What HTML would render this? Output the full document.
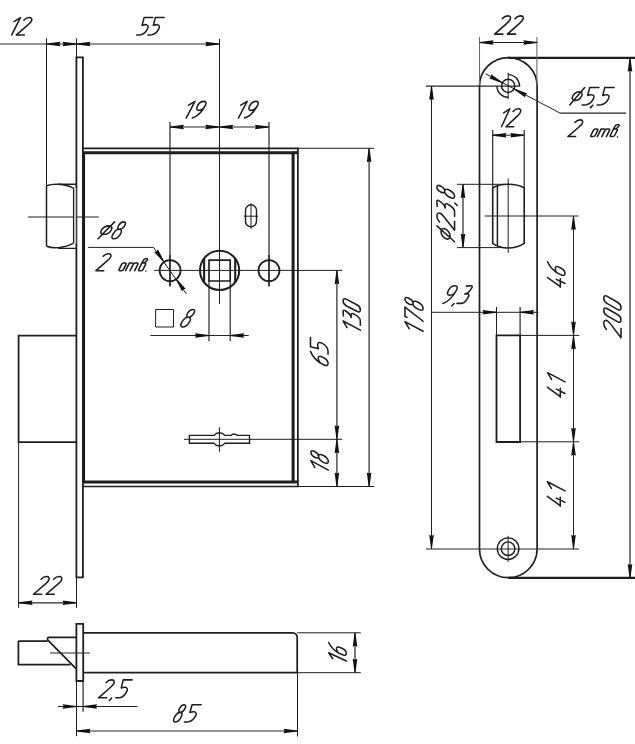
<!DOCTYPE html>
<html><head><meta charset="utf-8"><style>
html,body{margin:0;padding:0;background:#fff;}
svg{display:block;}
g path{vector-effect:non-scaling-stroke;}
</style></head><body>
<svg width="635" height="744" viewBox="0 0 635 744">
<rect x="0" y="0" width="635" height="744" fill="#fff"/>
<path d="M76.4,57.3 H82.9 V577.4 H76.4 Z" stroke="#1e1e1e" stroke-width="1.8" fill="none"/>
<path d="M83,148.4 H297.9 V486.5 H83" stroke="#1e1e1e" stroke-width="1.7" fill="none"/>
<path d="M83.6,152.7 H293.1 V481.9 H83.6 Z" stroke="#1e1e1e" stroke-width="3.0" fill="none"/>
<line x1="293.1" y1="152.7" x2="298.3" y2="152.7" stroke="#1e1e1e" stroke-width="3.0"/>
<line x1="293.1" y1="481.9" x2="298.3" y2="481.9" stroke="#1e1e1e" stroke-width="3.0"/>
<path d="M46.5,185.7 V246.2" stroke="#1e1e1e" stroke-width="1.5" fill="none"/>
<path d="M46.5,185.7 C52,183.6 64,183.2 73.4,188.1" stroke="#1e1e1e" stroke-width="1.5" fill="none"/>
<path d="M46.5,246.2 C52,248.4 64,248.8 73.4,243.2" stroke="#1e1e1e" stroke-width="1.5" fill="none"/>
<path d="M58,184.3 H76.5 M58,248.4 H76.5" stroke="#1e1e1e" stroke-width="1.4" fill="none"/>
<line x1="28" y1="217" x2="98.8" y2="217" stroke="#1e1e1e" stroke-width="1.0"/>
<rect x="73.6" y="188.2" width="2.6" height="55" fill="#c8c8c8"/>
<line x1="73.5" y1="188.1" x2="73.5" y2="243.3" stroke="#1e1e1e" stroke-width="1.1"/>
<path d="M76.5,335.6 H18.6 V442 H76.5" stroke="#1e1e1e" stroke-width="1.75" fill="none"/>
<line x1="18.6" y1="442" x2="18.6" y2="607.9" stroke="#1e1e1e" stroke-width="1.0"/>
<line x1="46.5" y1="38.2" x2="46.5" y2="185.7" stroke="#1e1e1e" stroke-width="1.0"/>
<line x1="76.5" y1="38.2" x2="76.5" y2="57" stroke="#1e1e1e" stroke-width="1.0"/>
<line x1="0" y1="44" x2="219.3" y2="44" stroke="#262626" stroke-width="1.2"/>
<polygon points="46.50,43.55 60.50,41.70 59.40,44.00 60.50,46.30 46.50,44.45" fill="#111"/>
<polygon points="76.50,44.45 62.50,46.30 63.60,44.00 62.50,41.70 76.50,43.55" fill="#111"/>
<polygon points="76.50,43.55 90.50,41.70 89.40,44.00 90.50,46.30 76.50,44.45" fill="#111"/>
<polygon points="219.30,44.45 205.30,46.30 206.40,44.00 205.30,41.70 219.30,43.55" fill="#111"/>
<line x1="219.5" y1="38.8" x2="219.5" y2="303.8" stroke="#1e1e1e" stroke-width="1.0"/>
<line x1="170" y1="127" x2="268.9" y2="127" stroke="#262626" stroke-width="1.2"/>
<line x1="170" y1="121.9" x2="170" y2="255" stroke="#262626" stroke-width="1.2"/>
<line x1="170" y1="255" x2="170" y2="286.6" stroke="#1e1e1e" stroke-width="1.7"/>
<line x1="269" y1="121.9" x2="269" y2="255" stroke="#262626" stroke-width="1.2"/>
<line x1="269.0" y1="255" x2="269.0" y2="286.6" stroke="#1e1e1e" stroke-width="1.7"/>
<polygon points="170.00,126.55 184.00,124.70 182.90,127.00 184.00,129.30 170.00,127.45" fill="#111"/>
<polygon points="219.30,127.45 205.30,129.30 206.40,127.00 205.30,124.70 219.30,126.55" fill="#111"/>
<polygon points="219.30,126.55 233.30,124.70 232.20,127.00 233.30,129.30 219.30,127.45" fill="#111"/>
<polygon points="268.90,127.45 254.90,129.30 256.00,127.00 254.90,124.70 268.90,126.55" fill="#111"/>
<circle cx="170.1" cy="270.6" r="10.5" stroke="#1e1e1e" stroke-width="1.8" fill="none"/>
<circle cx="269.0" cy="270.6" r="10.5" stroke="#1e1e1e" stroke-width="1.8" fill="none"/>
<circle cx="219.6" cy="270.4" r="19.6" stroke="#1e1e1e" stroke-width="2.0" fill="none"/>
<line x1="204.1" y1="258.6" x2="204.1" y2="282.2" stroke="#1e1e1e" stroke-width="2.1"/>
<line x1="235.2" y1="258.6" x2="235.2" y2="282.2" stroke="#1e1e1e" stroke-width="2.1"/>
<path d="M209,260.2 H230.2 V281 H209 Z" stroke="#1e1e1e" stroke-width="1.7" fill="none"/>
<line x1="154.2" y1="270.4" x2="342.3" y2="270.4" stroke="#1e1e1e" stroke-width="1.0"/>
<line x1="209" y1="280.6" x2="209" y2="341" stroke="#262626" stroke-width="1.2"/>
<line x1="230.2" y1="280.6" x2="230.2" y2="341" stroke="#262626" stroke-width="1.2"/>
<line x1="150.4" y1="335.5" x2="248.7" y2="335.5" stroke="#262626" stroke-width="1.2"/>
<polygon points="209.00,335.95 195.00,337.80 196.10,335.50 195.00,333.20 209.00,335.05" fill="#111"/>
<polygon points="230.20,335.05 244.20,333.20 243.10,335.50 244.20,337.80 230.20,335.95" fill="#111"/>
<path d="M155.6,309.5 H173.5 V327 H155.6 Z" stroke="#1e1e1e" stroke-width="1.0" fill="none"/>
<line x1="88.1" y1="247.4" x2="153.5" y2="247.4" stroke="#1e1e1e" stroke-width="1.0"/>
<line x1="153.5" y1="247.4" x2="186.4" y2="293.9" stroke="#1e1e1e" stroke-width="1.0"/>
<polygon points="163.68,262.25 154.09,251.89 156.60,251.46 157.84,249.23 164.42,261.73" fill="#111"/>
<polygon points="176.32,278.55 185.91,288.91 183.40,289.34 182.16,291.57 175.58,279.07" fill="#111"/>
<path d="M245.5,210.3 A5.5,5.5 0 0 1 256.5,210.3 V221.3 A5.5,5.5 0 0 1 245.5,221.3 Z" stroke="#1e1e1e" stroke-width="1.4" fill="none"/>
<line x1="251" y1="203.4" x2="251" y2="229" stroke="#1e1e1e" stroke-width="1.0"/>
<line x1="244" y1="216.2" x2="258.1" y2="216.2" stroke="#1e1e1e" stroke-width="1.0"/>
<path d="M189.4,435.4 H214.1 A6.6,6.6 0 0 1 224.7,435.4 H231 A3.9,3.9 0 0 1 237,435.4 H249.5 V443.3 H224.7 A6.6,6.6 0 0 1 214.1,443.3 H189.4 Z" stroke="#1e1e1e" stroke-width="1.4" fill="none"/>
<line x1="184" y1="439.3" x2="342.3" y2="439.3" stroke="#1e1e1e" stroke-width="1.0"/>
<line x1="219.4" y1="427.2" x2="219.4" y2="451.8" stroke="#1e1e1e" stroke-width="1.0"/>
<line x1="297.8" y1="148.3" x2="374.3" y2="148.3" stroke="#1e1e1e" stroke-width="1.0"/>
<line x1="297.8" y1="486.5" x2="374.3" y2="486.5" stroke="#1e1e1e" stroke-width="1.0"/>
<line x1="369.1" y1="148.3" x2="369.1" y2="486.5" stroke="#262626" stroke-width="1.2"/>
<polygon points="369.55,148.30 371.40,162.30 369.10,161.20 366.80,162.30 368.65,148.30" fill="#111"/>
<polygon points="368.65,486.50 366.80,472.50 369.10,473.60 371.40,472.50 369.55,486.50" fill="#111"/>
<line x1="336.9" y1="270.4" x2="336.9" y2="486.5" stroke="#262626" stroke-width="1.2"/>
<polygon points="337.35,270.40 339.20,284.40 336.90,283.30 334.60,284.40 336.45,270.40" fill="#111"/>
<polygon points="336.45,439.30 334.60,425.30 336.90,426.40 339.20,425.30 337.35,439.30" fill="#111"/>
<polygon points="337.35,439.30 339.20,453.30 336.90,452.20 334.60,453.30 336.45,439.30" fill="#111"/>
<polygon points="336.45,486.50 334.60,472.50 336.90,473.60 339.20,472.50 337.35,486.50" fill="#111"/>
<line x1="18.6" y1="602.8" x2="76.5" y2="602.8" stroke="#262626" stroke-width="1.2"/>
<line x1="76.5" y1="577.4" x2="76.5" y2="607.9" stroke="#1e1e1e" stroke-width="1.0"/>
<polygon points="18.60,602.35 32.60,600.50 31.50,602.80 32.60,605.10 18.60,603.25" fill="#111"/>
<polygon points="76.50,603.25 62.50,605.10 63.60,602.80 62.50,600.50 76.50,602.35" fill="#111"/>
<path d="M76.4,623.8 H83.2 V681 H76.4 Z" stroke="#1e1e1e" stroke-width="1.8" fill="none"/>
<path d="M83.2,632.8 H292.5 A4.7,4.7 0 0 1 297.2,637.5 V672.7 H83.2" stroke="#1e1e1e" stroke-width="1.75" fill="none"/>
<path d="M18.4,641 H47.6 M18.4,641 V664.5 H70.5" stroke="#1e1e1e" stroke-width="1.75" fill="none"/>
<path d="M47.6,637.3 H76.4 M47.6,637.3 V639.8 L76,668.6" stroke="#1e1e1e" stroke-width="1.75" fill="none"/>
<line x1="50" y1="653" x2="89.9" y2="653" stroke="#262626" stroke-width="1.2"/>
<line x1="297.2" y1="632.8" x2="360.8" y2="632.8" stroke="#1e1e1e" stroke-width="1.0"/>
<line x1="297.2" y1="672.7" x2="360.8" y2="672.7" stroke="#1e1e1e" stroke-width="1.0"/>
<line x1="355" y1="632.8" x2="355" y2="672.7" stroke="#262626" stroke-width="1.2"/>
<polygon points="355.45,632.80 357.30,646.80 355.00,645.70 352.70,646.80 354.55,632.80" fill="#111"/>
<polygon points="354.55,672.70 352.70,658.70 355.00,659.80 357.30,658.70 355.45,672.70" fill="#111"/>
<line x1="57.9" y1="706.5" x2="137.4" y2="706.5" stroke="#1e1e1e" stroke-width="1.0"/>
<line x1="76.5" y1="681" x2="76.5" y2="736.1" stroke="#1e1e1e" stroke-width="1.0"/>
<line x1="83.1" y1="681" x2="83.1" y2="711.7" stroke="#262626" stroke-width="1.2"/>
<polygon points="76.50,706.95 62.50,708.80 63.60,706.50 62.50,704.20 76.50,706.05" fill="#111"/>
<polygon points="83.10,706.05 97.10,704.20 96.00,706.50 97.10,708.80 83.10,706.95" fill="#111"/>
<line x1="76.5" y1="731" x2="297.5" y2="731" stroke="#262626" stroke-width="1.2"/>
<line x1="297.5" y1="672.7" x2="297.5" y2="736.5" stroke="#1e1e1e" stroke-width="1.0"/>
<polygon points="76.50,730.55 90.50,728.70 89.40,731.00 90.50,733.30 76.50,731.45" fill="#111"/>
<polygon points="297.50,731.45 283.50,733.30 284.60,731.00 283.50,728.70 297.50,730.55" fill="#111"/>
<path d="M479.5,86.3 A28.8,28.8 0 0 1 537.1,86.3 V548.9 A28.8,28.8 0 0 1 479.5,548.9 Z" stroke="#1e1e1e" stroke-width="1.7" fill="none"/>
<line x1="508.3" y1="57.8" x2="635" y2="57.8" stroke="#1e1e1e" stroke-width="2.3"/>
<line x1="508.3" y1="577.9" x2="635" y2="577.9" stroke="#1e1e1e" stroke-width="2.1"/>
<line x1="630" y1="57.8" x2="630" y2="577.9" stroke="#262626" stroke-width="1.2"/>
<polygon points="630.45,57.80 632.30,71.80 630.00,70.70 627.70,71.80 629.55,57.80" fill="#111"/>
<polygon points="629.55,577.90 627.70,563.90 630.00,565.00 632.30,563.90 630.45,577.90" fill="#111"/>
<line x1="479.5" y1="42.5" x2="537.2" y2="42.5" stroke="#1e1e1e" stroke-width="1.0"/>
<line x1="479.5" y1="37" x2="479.5" y2="86" stroke="#6a6a6a" stroke-width="1.1"/>
<line x1="536.9" y1="37" x2="536.9" y2="86" stroke="#6a6a6a" stroke-width="1.1"/>
<polygon points="479.50,42.05 493.50,40.20 492.40,42.50 493.50,44.80 479.50,42.95" fill="#111"/>
<polygon points="537.20,42.95 523.20,44.80 524.30,42.50 523.20,40.20 537.20,42.05" fill="#111"/>
<circle cx="508.2" cy="85.9" r="6.6" stroke="#1e1e1e" stroke-width="1.5" fill="none"/>
<path d="M508.2,74.6 A11.3,11.3 0 0 1 519.5,85.9 M508.2,97.2 A11.3,11.3 0 0 1 496.9,85.9" stroke="#1e1e1e" stroke-width="1.4" fill="none"/>
<line x1="508.2" y1="72.6" x2="508.2" y2="99.1" stroke="#1e1e1e" stroke-width="1.0"/>
<line x1="426" y1="86.1" x2="520.2" y2="86.1" stroke="#262626" stroke-width="1.2"/>
<line x1="485.5" y1="73.7" x2="560.2" y2="113.2" stroke="#1e1e1e" stroke-width="1.0"/>
<line x1="560.2" y1="113.2" x2="626.1" y2="113.2" stroke="#262626" stroke-width="1.2"/>
<polygon points="502.24,83.26 489.00,78.35 491.05,76.83 491.15,74.28 502.66,82.46" fill="#111"/>
<polygon points="514.16,88.54 527.40,93.45 525.35,94.97 525.25,97.52 513.74,89.34" fill="#111"/>
<line x1="492.7" y1="135.2" x2="524.2" y2="135.2" stroke="#1e1e1e" stroke-width="1.0"/>
<line x1="492.7" y1="130" x2="492.7" y2="188" stroke="#262626" stroke-width="1.2"/>
<line x1="524.2" y1="130" x2="524.2" y2="188" stroke="#262626" stroke-width="1.2"/>
<polygon points="492.50,134.75 506.50,132.90 505.40,135.20 506.50,137.50 492.50,135.65" fill="#111"/>
<polygon points="524.30,135.65 510.30,137.50 511.40,135.20 510.30,132.90 524.30,134.75" fill="#111"/>
<path d="M492.7,187.9 C497,185.1 502,184.3 508.2,184.3 C514,184.3 519.5,185.1 524.2,187.9 V243.4 C519.5,246.6 514,248 508.2,248 C502,248 497,246.6 492.7,243.4 Z" stroke="#1e1e1e" stroke-width="1.6" fill="none"/>
<line x1="497.4" y1="186" x2="497.4" y2="245" stroke="#1e1e1e" stroke-width="1.5"/>
<line x1="484.5" y1="216" x2="578.3" y2="216" stroke="#1e1e1e" stroke-width="1.0"/>
<line x1="508.2" y1="178.6" x2="508.2" y2="252.9" stroke="#1e1e1e" stroke-width="1.0"/>
<line x1="457.1" y1="184.3" x2="505" y2="184.3" stroke="#1e1e1e" stroke-width="1.0"/>
<line x1="457.1" y1="247.6" x2="505" y2="247.6" stroke="#1e1e1e" stroke-width="1.0"/>
<line x1="463" y1="184.3" x2="463" y2="247.6" stroke="#262626" stroke-width="1.2"/>
<polygon points="463.45,184.30 465.30,198.30 463.00,197.20 460.70,198.30 462.55,184.30" fill="#111"/>
<polygon points="462.55,247.60 460.70,233.60 463.00,234.70 465.30,233.60 463.45,247.60" fill="#111"/>
<line x1="426" y1="549" x2="579" y2="549" stroke="#262626" stroke-width="1.2"/>
<line x1="431.5" y1="86.1" x2="431.5" y2="548.8" stroke="#1e1e1e" stroke-width="1.0"/>
<polygon points="431.95,86.10 433.80,100.10 431.50,99.00 429.20,100.10 431.05,86.10" fill="#111"/>
<polygon points="431.05,548.80 429.20,534.80 431.50,535.90 433.80,534.80 431.95,548.80" fill="#111"/>
<line x1="431.7" y1="312.3" x2="538.4" y2="312.3" stroke="#1e1e1e" stroke-width="1.0"/>
<line x1="496.5" y1="307" x2="496.5" y2="335.4" stroke="#1e1e1e" stroke-width="1.0"/>
<line x1="520.1" y1="307" x2="520.1" y2="335.4" stroke="#262626" stroke-width="1.2"/>
<polygon points="496.50,312.75 482.50,314.60 483.60,312.30 482.50,310.00 496.50,311.85" fill="#111"/>
<polygon points="520.10,311.85 534.10,310.00 533.00,312.30 534.10,314.60 520.10,312.75" fill="#111"/>
<path d="M496.5,442 V335.4 H520.1 V442 Z" stroke="#1e1e1e" stroke-width="1.8" fill="none"/>
<line x1="520.1" y1="335.4" x2="579.3" y2="335.4" stroke="#1e1e1e" stroke-width="1.0"/>
<line x1="520.1" y1="441.8" x2="579.3" y2="441.8" stroke="#1e1e1e" stroke-width="1.0"/>
<line x1="573.5" y1="216" x2="573.5" y2="548.8" stroke="#1e1e1e" stroke-width="1.0"/>
<polygon points="573.95,216.00 575.80,230.00 573.50,228.90 571.20,230.00 573.05,216.00" fill="#111"/>
<polygon points="573.05,335.40 571.20,321.40 573.50,322.50 575.80,321.40 573.95,335.40" fill="#111"/>
<polygon points="573.95,335.40 575.80,349.40 573.50,348.30 571.20,349.40 573.05,335.40" fill="#111"/>
<polygon points="573.05,441.80 571.20,427.80 573.50,428.90 575.80,427.80 573.95,441.80" fill="#111"/>
<polygon points="573.95,441.80 575.80,455.80 573.50,454.70 571.20,455.80 573.05,441.80" fill="#111"/>
<polygon points="573.05,548.80 571.20,534.80 573.50,535.90 575.80,534.80 573.95,548.80" fill="#111"/>
<circle cx="508.1" cy="548.7" r="10.8" stroke="#1e1e1e" stroke-width="1.4" fill="none"/>
<circle cx="508.1" cy="548.7" r="6.8" stroke="#1e1e1e" stroke-width="1.4" fill="none"/>
<line x1="508.1" y1="535.9" x2="508.1" y2="561.9" stroke="#1e1e1e" stroke-width="1.0"/>
<g id="L0" transform="translate(11.68,34.93) scale(0.1751,0.1735) translate(-25.00,-0.00)" fill="none" stroke="#1e1e1e" stroke-width="1.55" stroke-linecap="round" stroke-linejoin="round"><path transform="matrix(1 0 -0.5 1 0 0)" d="M0,-77 L25,-100 V0"/><path transform="matrix(1 0 -0.5 1 52 0)" d="M0,-85 C5,-96 14,-100 23,-100 C37,-100 46,-91 46,-79 C46,-71 43,-66 38,-59 L0,0 H46"/></g>
<g id="L1" transform="translate(136.68,34.93) scale(0.1760,0.1735) translate(-8.00,0.00)" fill="none" stroke="#1e1e1e" stroke-width="1.55" stroke-linecap="round" stroke-linejoin="round"><path transform="matrix(1 0 -0.5 1 0 0)" d="M50,-100 H0 L11,-55 C19,-59 26,-60 32,-59 C45,-57 52,-48 52,-35 C52,-16 43,-4 31,-1 C25,0 17,0 8,0"/><path transform="matrix(1 0 -0.5 1 64 0)" d="M50,-100 H0 L11,-55 C19,-59 26,-60 32,-59 C45,-57 52,-48 52,-35 C52,-16 43,-4 31,-1 C25,0 17,0 8,0"/></g>
<g id="L2" transform="translate(186.18,118.02) scale(0.1758,0.1665) translate(-25.00,-0.00)" fill="none" stroke="#1e1e1e" stroke-width="1.55" stroke-linecap="round" stroke-linejoin="round"><path transform="matrix(1 0 -0.5 1 0 0)" d="M0,-77 L25,-100 V0"/><path transform="matrix(1 0 -0.5 1 52 0)" d="M44,-76 C44,-92 35,-100 23,-100 C10,-100 1,-90 1,-73 C1,-56 10,-46 22,-46 C34,-46 44,-58 44,-76 C44,-40 30,-8 8,0"/></g>
<g id="L3" transform="translate(238.38,118.02) scale(0.1758,0.1665) translate(-25.00,-0.00)" fill="none" stroke="#1e1e1e" stroke-width="1.55" stroke-linecap="round" stroke-linejoin="round"><path transform="matrix(1 0 -0.5 1 0 0)" d="M0,-77 L25,-100 V0"/><path transform="matrix(1 0 -0.5 1 52 0)" d="M44,-76 C44,-92 35,-100 23,-100 C10,-100 1,-90 1,-73 C1,-56 10,-46 22,-46 C34,-46 44,-58 44,-76 C44,-40 30,-8 8,0"/></g>
<g id="L4" transform="translate(494.77,34.12) scale(0.1794,0.1825) translate(-0.49,-0.00)" fill="none" stroke="#1e1e1e" stroke-width="1.55" stroke-linecap="round" stroke-linejoin="round"><path transform="matrix(1 0 -0.5 1 0 0)" d="M0,-85 C5,-96 14,-100 23,-100 C37,-100 46,-91 46,-79 C46,-71 43,-66 38,-59 L0,0 H46"/><path transform="matrix(1 0 -0.5 1 71 0)" d="M0,-85 C5,-96 14,-100 23,-100 C37,-100 46,-91 46,-79 C46,-71 43,-66 38,-59 L0,0 H46"/></g>
<g id="L5" transform="translate(501.47,126.72) scale(0.1673,0.1795) translate(-25.00,-0.00)" fill="none" stroke="#1e1e1e" stroke-width="1.55" stroke-linecap="round" stroke-linejoin="round"><path transform="matrix(1 0 -0.5 1 0 0)" d="M0,-77 L25,-100 V0"/><path transform="matrix(1 0 -0.5 1 52 0)" d="M0,-85 C5,-96 14,-100 23,-100 C37,-100 46,-91 46,-79 C46,-71 43,-66 38,-59 L0,0 H46"/></g>
<g id="L6" transform="translate(569.77,107.62) scale(0.1836,0.1743) translate(-10.00,-15.00)" fill="none" stroke="#1e1e1e" stroke-width="1.55" stroke-linecap="round" stroke-linejoin="round"><path transform="matrix(1 0 -0.5 1 0 0)" d="M10,0 L41,-100 M25,-76.5 C11.7,-76.5 1,-65 1,-51 C1,-37 11.7,-25.5 25,-25.5 C38.3,-25.5 49,-37 49,-51 C49,-65 38.3,-76.5 25,-76.5 Z"/><path transform="matrix(1 0 -0.5 1 69 0)" d="M50,-100 H0 L11,-55 C19,-59 26,-60 32,-59 C45,-57 52,-48 52,-35 C52,-16 43,-4 31,-1 C25,0 17,0 8,0"/><path transform="matrix(1 0 -0.5 1 133 0)" d="M3,1 L-3,15"/><path transform="matrix(1 0 -0.5 1 151 0)" d="M50,-100 H0 L11,-55 C19,-59 26,-60 32,-59 C45,-57 52,-48 52,-35 C52,-16 43,-4 31,-1 C25,0 17,0 8,0"/></g>
<g id="L7" transform="translate(567.98,136.92) scale(0.1680,0.1672) translate(-0.49,-2.00)" fill="none" stroke="#1e1e1e" stroke-width="1.55" stroke-linecap="round" stroke-linejoin="round"><path transform="matrix(1 0 -0.5 1 0 0)" d="M0,-85 C5,-96 14,-100 23,-100 C37,-100 46,-91 46,-79 C46,-71 43,-66 38,-59 L0,0 H46"/><path transform="matrix(1 0 -0.5 1 133 0)" d="M0,-37 C0,-43 3,-45 9,-45 H17 C23,-45 26,-43 26,-37 V-8 C26,-2 23,0 17,0 H9 C3,0 0,-2 0,-8 Z"/><path transform="matrix(1 0 -0.5 1 175 0)" d="M0,0 V-45 M0,-37 C0,-43 4,-45 9,-45 H18 C24,-45 27,-43 27,-37 V0 M27,-37 C27,-43 31,-45 36,-45 H45 C51,-45 54,-43 54,-37 V0"/><path transform="matrix(1 0 -0.5 1 249 0)" d="M0,-8 V-58 C0,-67 5,-72 13,-72 C20,-72 24,-68 23,-62 C22,-53 16,-46 8,-45 H17 C23,-45 26,-43 26,-37 V-8 C26,-2 23,0 17,0 H9 C3,0 0,-2 0,-8 Z"/><path transform="matrix(1 0 -0.5 1 291 0)" d="M5,2 L5.6,2"/></g>
<g id="L8" transform="translate(97.98,238.82) scale(0.2056,0.1695) translate(-10.00,-0.00)" fill="none" stroke="#1e1e1e" stroke-width="1.55" stroke-linecap="round" stroke-linejoin="round"><path transform="matrix(1 0 -0.5 1 0 0)" d="M10,0 L41,-100 M25,-76.5 C11.7,-76.5 1,-65 1,-51 C1,-37 11.7,-25.5 25,-25.5 C38.3,-25.5 49,-37 49,-51 C49,-65 38.3,-76.5 25,-76.5 Z"/><path transform="matrix(1 0 -0.5 1 69 0)" d="M17,-56 C8,-56 2,-66 2,-78 C2,-91 8,-100 17,-100 C26,-100 32,-91 32,-78 C32,-66 26,-56 17,-56 C7,-56 0,-45 0,-28 C0,-10 8,0 18,0 C29,0 36,-10 36,-28 C36,-45 28,-56 17,-56 Z"/></g>
<g id="L9" transform="translate(96.08,271.03) scale(0.1689,0.1701) translate(-0.49,-2.00)" fill="none" stroke="#1e1e1e" stroke-width="1.55" stroke-linecap="round" stroke-linejoin="round"><path transform="matrix(1 0 -0.5 1 0 0)" d="M0,-85 C5,-96 14,-100 23,-100 C37,-100 46,-91 46,-79 C46,-71 43,-66 38,-59 L0,0 H46"/><path transform="matrix(1 0 -0.5 1 133 0)" d="M0,-37 C0,-43 3,-45 9,-45 H17 C23,-45 26,-43 26,-37 V-8 C26,-2 23,0 17,0 H9 C3,0 0,-2 0,-8 Z"/><path transform="matrix(1 0 -0.5 1 175 0)" d="M0,0 V-45 M0,-37 C0,-43 4,-45 9,-45 H18 C24,-45 27,-43 27,-37 V0 M27,-37 C27,-43 31,-45 36,-45 H45 C51,-45 54,-43 54,-37 V0"/><path transform="matrix(1 0 -0.5 1 249 0)" d="M0,-8 V-58 C0,-67 5,-72 13,-72 C20,-72 24,-68 23,-62 C22,-53 16,-46 8,-45 H17 C23,-45 26,-43 26,-37 V-8 C26,-2 23,0 17,0 H9 C3,0 0,-2 0,-8 Z"/><path transform="matrix(1 0 -0.5 1 291 0)" d="M5,2 L5.6,2"/></g>
<g id="L10" transform="translate(180.68,326.93) scale(0.2117,0.1735) translate(-8.64,0.00)" fill="none" stroke="#1e1e1e" stroke-width="1.55" stroke-linecap="round" stroke-linejoin="round"><path transform="matrix(1 0 -0.5 1 0 0)" d="M17,-56 C8,-56 2,-66 2,-78 C2,-91 8,-100 17,-100 C26,-100 32,-91 32,-78 C32,-66 26,-56 17,-56 C7,-56 0,-45 0,-28 C0,-10 8,0 18,0 C29,0 36,-10 36,-28 C36,-45 28,-56 17,-56 Z"/></g>
<g id="L11" transform="translate(442.88,306.03) scale(0.1852,0.1761) translate(-8.00,-15.00)" fill="none" stroke="#1e1e1e" stroke-width="1.55" stroke-linecap="round" stroke-linejoin="round"><path transform="matrix(1 0 -0.5 1 0 0)" d="M44,-76 C44,-92 35,-100 23,-100 C10,-100 1,-90 1,-73 C1,-56 10,-46 22,-46 C34,-46 44,-58 44,-76 C44,-40 30,-8 8,0"/><path transform="matrix(1 0 -0.5 1 66 0)" d="M3,1 L-3,15"/><path transform="matrix(1 0 -0.5 1 84 0)" d="M2,-98 L26,-100 C33,-100 37,-95 36,-87 C35,-70 28,-57 16,-53 L31,-54 C39,-54 44,-45 43,-33 C42,-14 36,0 25,0 H0"/></g>
<g id="L12" transform="translate(33.57,594.23) scale(0.1781,0.1765) translate(-0.49,-0.00)" fill="none" stroke="#1e1e1e" stroke-width="1.55" stroke-linecap="round" stroke-linejoin="round"><path transform="matrix(1 0 -0.5 1 0 0)" d="M0,-85 C5,-96 14,-100 23,-100 C37,-100 46,-91 46,-79 C46,-71 43,-66 38,-59 L0,0 H46"/><path transform="matrix(1 0 -0.5 1 71 0)" d="M0,-85 C5,-96 14,-100 23,-100 C37,-100 46,-91 46,-79 C46,-71 43,-66 38,-59 L0,0 H46"/></g>
<g id="L13" transform="translate(98.68,700.52) scale(0.1774,0.1796) translate(-0.49,-15.00)" fill="none" stroke="#1e1e1e" stroke-width="1.55" stroke-linecap="round" stroke-linejoin="round"><path transform="matrix(1 0 -0.5 1 0 0)" d="M0,-85 C5,-96 14,-100 23,-100 C37,-100 46,-91 46,-79 C46,-71 43,-66 38,-59 L0,0 H46"/><path transform="matrix(1 0 -0.5 1 71 0)" d="M3,1 L-3,15"/><path transform="matrix(1 0 -0.5 1 89 0)" d="M50,-100 H0 L11,-55 C19,-59 26,-60 32,-59 C45,-57 52,-48 52,-35 C52,-16 43,-4 31,-1 C25,0 17,0 8,0"/></g>
<g id="L14" transform="translate(173.58,722.02) scale(0.1820,0.1725) translate(-8.64,0.00)" fill="none" stroke="#1e1e1e" stroke-width="1.55" stroke-linecap="round" stroke-linejoin="round"><path transform="matrix(1 0 -0.5 1 0 0)" d="M17,-56 C8,-56 2,-66 2,-78 C2,-91 8,-100 17,-100 C26,-100 32,-91 32,-78 C32,-66 26,-56 17,-56 C7,-56 0,-45 0,-28 C0,-10 8,0 18,0 C29,0 36,-10 36,-28 C36,-45 28,-56 17,-56 Z"/><path transform="matrix(1 0 -0.5 1 60 0)" d="M50,-100 H0 L11,-55 C19,-59 26,-60 32,-59 C45,-57 52,-48 52,-35 C52,-16 43,-4 31,-1 C25,0 17,0 8,0"/></g>
<g id="L15" transform="translate(360.33,330.12) rotate(-90) scale(0.1821,0.1725) translate(-25.00,-0.00)" fill="none" stroke="#1e1e1e" stroke-width="1.55" stroke-linecap="round" stroke-linejoin="round"><path transform="matrix(1 0 -0.5 1 0 0)" d="M0,-77 L25,-100 V0"/><path transform="matrix(1 0 -0.5 1 52 0)" d="M2,-98 L26,-100 C33,-100 37,-95 36,-87 C35,-70 28,-57 16,-53 L31,-54 C39,-54 44,-45 43,-33 C42,-14 36,0 25,0 H0"/><path transform="matrix(1 0 -0.5 1 118 0)" d="M0,-82 A18,18 0 0 1 36,-82 V-18 A18,18 0 0 1 0,-18 Z"/></g>
<g id="L16" transform="translate(328.03,365.53) rotate(-90) scale(0.1814,0.1755) translate(-7.92,0.00)" fill="none" stroke="#1e1e1e" stroke-width="1.55" stroke-linecap="round" stroke-linejoin="round"><path transform="matrix(1 0 -0.5 1 0 0)" d="M36,-100 C18,-90 6,-75 1,-52 C0,-45 0,-35 0,-25 C0,-8 8,0 19,0 C31,0 38,-8 38,-25 V-32 C38,-48 31,-56 20,-56 C11,-56 4,-52 0,-45"/><path transform="matrix(1 0 -0.5 1 62 0)" d="M50,-100 H0 L11,-55 C19,-59 26,-60 32,-59 C45,-57 52,-48 52,-35 C52,-16 43,-4 31,-1 C25,0 17,0 8,0"/></g>
<g id="L17" transform="translate(328.33,470.12) rotate(-90) scale(0.1897,0.1745) translate(-25.00,-0.00)" fill="none" stroke="#1e1e1e" stroke-width="1.55" stroke-linecap="round" stroke-linejoin="round"><path transform="matrix(1 0 -0.5 1 0 0)" d="M0,-77 L25,-100 V0"/><path transform="matrix(1 0 -0.5 1 52 0)" d="M17,-56 C8,-56 2,-66 2,-78 C2,-91 8,-100 17,-100 C26,-100 32,-91 32,-78 C32,-66 26,-56 17,-56 C7,-56 0,-45 0,-28 C0,-10 8,0 18,0 C29,0 36,-10 36,-28 C36,-45 28,-56 17,-56 Z"/></g>
<g id="L18" transform="translate(423.12,331.23) rotate(-90) scale(0.1918,0.1815) translate(-25.00,0.00)" fill="none" stroke="#1e1e1e" stroke-width="1.55" stroke-linecap="round" stroke-linejoin="round"><path transform="matrix(1 0 -0.5 1 0 0)" d="M0,-77 L25,-100 V0"/><path transform="matrix(1 0 -0.5 1 52 0)" d="M1,-89 V-100 H49 L25,0"/><path transform="matrix(1 0 -0.5 1 126 0)" d="M17,-56 C8,-56 2,-66 2,-78 C2,-91 8,-100 17,-100 C26,-100 32,-91 32,-78 C32,-66 26,-56 17,-56 C7,-56 0,-45 0,-28 C0,-10 8,0 18,0 C29,0 36,-10 36,-28 C36,-45 28,-56 17,-56 Z"/></g>
<g id="L19" transform="translate(457.23,241.72) rotate(-90) scale(0.1950,0.1770) translate(-10.00,-15.00)" fill="none" stroke="#1e1e1e" stroke-width="1.55" stroke-linecap="round" stroke-linejoin="round"><path transform="matrix(1 0 -0.5 1 0 0)" d="M10,0 L41,-100 M25,-76.5 C11.7,-76.5 1,-65 1,-51 C1,-37 11.7,-25.5 25,-25.5 C38.3,-25.5 49,-37 49,-51 C49,-65 38.3,-76.5 25,-76.5 Z"/><path transform="matrix(1 0 -0.5 1 69 0)" d="M0,-85 C5,-96 14,-100 23,-100 C37,-100 46,-91 46,-79 C46,-71 43,-66 38,-59 L0,0 H46"/><path transform="matrix(1 0 -0.5 1 140 0)" d="M2,-98 L26,-100 C33,-100 37,-95 36,-87 C35,-70 28,-57 16,-53 L31,-54 C39,-54 44,-45 43,-33 C42,-14 36,0 25,0 H0"/><path transform="matrix(1 0 -0.5 1 206 0)" d="M3,1 L-3,15"/><path transform="matrix(1 0 -0.5 1 224 0)" d="M17,-56 C8,-56 2,-66 2,-78 C2,-91 8,-100 17,-100 C26,-100 32,-91 32,-78 C32,-66 26,-56 17,-56 C7,-56 0,-45 0,-28 C0,-10 8,0 18,0 C29,0 36,-10 36,-28 C36,-45 28,-56 17,-56 Z"/></g>
<g id="L20" transform="translate(565.02,287.03) rotate(-90) scale(0.1755,0.1745) translate(-14.09,0.00)" fill="none" stroke="#1e1e1e" stroke-width="1.55" stroke-linecap="round" stroke-linejoin="round"><path transform="matrix(1 0 -0.5 1 0 0)" d="M17.5,-100 L3,-27 M0,-27 H48 M32.5,-50 L34,0"/><path transform="matrix(1 0 -0.5 1 72 0)" d="M36,-100 C18,-90 6,-75 1,-52 C0,-45 0,-35 0,-25 C0,-8 8,0 19,0 C31,0 38,-8 38,-25 V-32 C38,-48 31,-56 20,-56 C11,-56 4,-52 0,-45"/></g>
<g id="L21" transform="translate(621.02,337.62) rotate(-90) scale(0.1977,0.1725) translate(-0.49,-0.00)" fill="none" stroke="#1e1e1e" stroke-width="1.55" stroke-linecap="round" stroke-linejoin="round"><path transform="matrix(1 0 -0.5 1 0 0)" d="M0,-85 C5,-96 14,-100 23,-100 C37,-100 46,-91 46,-79 C46,-71 43,-66 38,-59 L0,0 H46"/><path transform="matrix(1 0 -0.5 1 71 0)" d="M0,-82 A18,18 0 0 1 36,-82 V-18 A18,18 0 0 1 0,-18 Z"/><path transform="matrix(1 0 -0.5 1 133 0)" d="M0,-82 A18,18 0 0 1 36,-82 V-18 A18,18 0 0 1 0,-18 Z"/></g>
<g id="L22" transform="translate(565.02,397.12) rotate(-90) scale(0.1841,0.1745) translate(-14.09,0.00)" fill="none" stroke="#1e1e1e" stroke-width="1.55" stroke-linecap="round" stroke-linejoin="round"><path transform="matrix(1 0 -0.5 1 0 0)" d="M17.5,-100 L3,-27 M0,-27 H48 M32.5,-50 L34,0"/><path transform="matrix(1 0 -0.5 1 72 0)" d="M0,-77 L25,-100 V0"/></g>
<g id="L23" transform="translate(565.02,506.03) rotate(-90) scale(0.1826,0.1765) translate(-14.09,0.00)" fill="none" stroke="#1e1e1e" stroke-width="1.55" stroke-linecap="round" stroke-linejoin="round"><path transform="matrix(1 0 -0.5 1 0 0)" d="M17.5,-100 L3,-27 M0,-27 H48 M32.5,-50 L34,0"/><path transform="matrix(1 0 -0.5 1 72 0)" d="M0,-77 L25,-100 V0"/></g>
<g id="L24" transform="translate(346.33,661.02) rotate(-90) scale(0.1642,0.1765) translate(-25.00,0.00)" fill="none" stroke="#1e1e1e" stroke-width="1.55" stroke-linecap="round" stroke-linejoin="round"><path transform="matrix(1 0 -0.5 1 0 0)" d="M0,-77 L25,-100 V0"/><path transform="matrix(1 0 -0.5 1 52 0)" d="M36,-100 C18,-90 6,-75 1,-52 C0,-45 0,-35 0,-25 C0,-8 8,0 19,0 C31,0 38,-8 38,-25 V-32 C38,-48 31,-56 20,-56 C11,-56 4,-52 0,-45"/></g>
</svg>
</body></html>
